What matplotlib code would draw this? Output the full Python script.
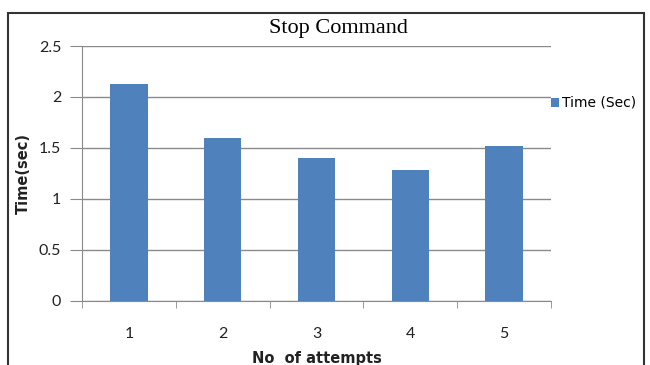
import matplotlib
matplotlib.use("Agg")
import matplotlib.pyplot as plt
from matplotlib.patches import Rectangle

attempts = ["1", "2", "3", "4", "5"]
times = [2.13, 1.60, 1.40, 1.28, 1.52]
yticks = [0, 0.5, 1, 1.5, 2, 2.5]
ytick_labels = ["0", "0.5", "1", "1.5", "2", "2.5"]
series_name = "Time (Sec)"

W, H = 650, 365
fig = plt.figure(figsize=(W / 100, H / 100), dpi=100)
fig.patch.set_facecolor("white")

left, right, bottom, top = 82, 551, 300.7, 46
ax = fig.add_axes([left / W, 1 - bottom / H, (right - left) / W, (bottom - top) / H])

x = list(range(len(attempts)))
bars = ax.bar(x, times, width=0.4, color="#4F81BD", zorder=3, label=series_name)

ax.set_xlim(-0.5, len(attempts) - 0.5)
ax.set_ylim(0, 2.5)
ax.set_yticks(yticks)
ax.set_yticklabels(ytick_labels)
ax.set_xticks(x)
ax.set_xticklabels(attempts)
ax.set_xticks([i - 0.5 for i in range(len(attempts) + 1)], minor=True)

ax.yaxis.grid(True, color="#8a8a8a", linewidth=1.0, zorder=0)
for s in ["top", "right"]:
    ax.spines[s].set_visible(False)
ax.spines["left"].set_color("#8a8a8a")
ax.spines["bottom"].set_color("#8a8a8a")

font = "Lato"
ax.tick_params(axis="y", length=9, color="#8a8a8a", labelsize=11.5, pad=6)
ax.tick_params(axis="x", which="major", length=0, labelsize=11.5, pad=19)
ax.tick_params(axis="x", which="minor", length=5, color="#8a8a8a")
for lbl in ax.get_xticklabels() + ax.get_yticklabels():
    lbl.set_fontfamily(font)
    lbl.set_color("#222222")

ax.set_xlabel("No  of attempts", fontsize=10.5, fontweight="bold", fontfamily="DejaVu Sans",
              labelpad=7, color="#222222")
ax.set_ylabel("Time(sec)", fontsize=10.5, fontweight="bold", fontfamily="DejaVu Sans",
              labelpad=6, color="#222222")

fig.text(338 / W, 1 - 29 / H, "Stop Command", ha="center", va="center",
         fontsize=16, fontfamily="Liberation Serif")

leg = ax.legend(loc="center left", bbox_to_anchor=(538 / W, 1 - 103 / H),
                bbox_transform=fig.transFigure, frameon=False,
                handlelength=0.6, handleheight=0.6, handletextpad=0.25,
                prop={"family": "DejaVu Sans", "size": 10})

border = Rectangle((8 / W, -0.02), (644 - 8) / W, (1 - 12.5 / H) + 0.02,
                   transform=fig.transFigure, fill=False, edgecolor="#333333",
                   linewidth=1.5)
fig.patches.append(border)

fig.savefig("out.png", dpi=100)
